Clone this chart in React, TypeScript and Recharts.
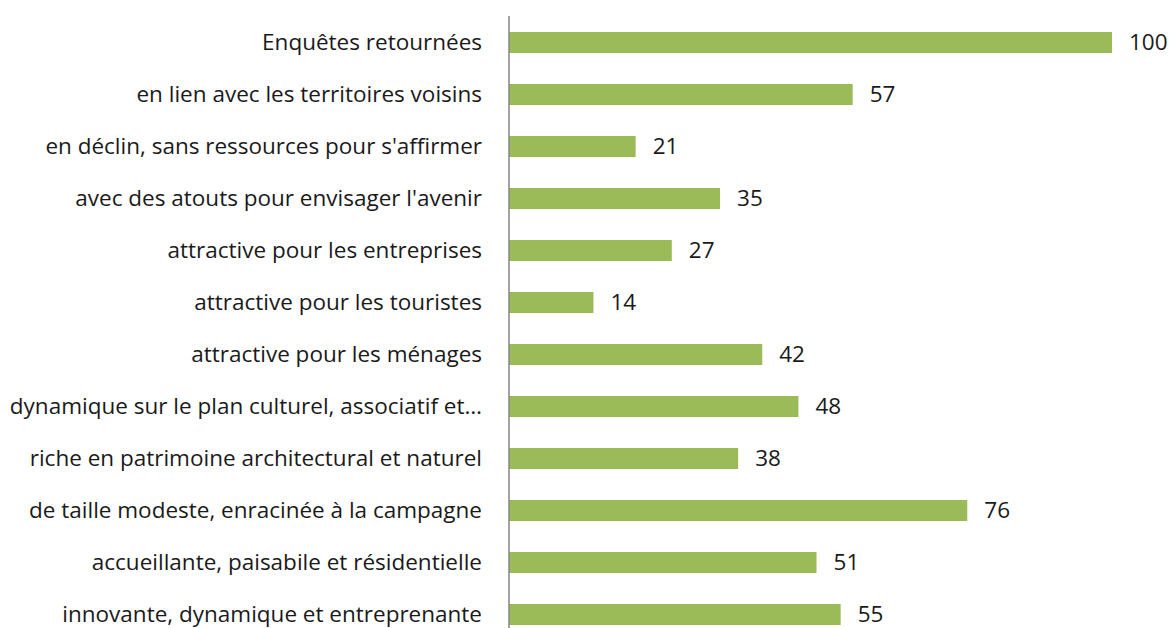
import { BarChart, Bar, XAxis, YAxis, LabelList } from "recharts"

const categories = [
  "Enquêtes retournées",
  "en lien avec les territoires voisins",
  "en déclin, sans ressources pour s'affirmer",
  "avec des atouts pour envisager l'avenir",
  "attractive pour les entreprises",
  "attractive pour les touristes",
  "attractive pour les ménages",
  "dynamique sur le plan culturel, associatif et…",
  "riche en patrimoine architectural et naturel",
  "de taille modeste, enracinée à la campagne",
  "accueillante, paisabile et résidentielle",
  "innovante, dynamique et entreprenante",
]

const values = [100, 57, 21, 35, 27, 14, 42, 48, 38, 76, 51, 55]

const data = categories.map((name, i) => ({ name, value: values[i] }))

const FONT = "'Open Sans', sans-serif"

function CategoryTick(props: any) {
  const { x, y, payload } = props
  return (
    <text x={x} y={y} dy={8} textAnchor="end" fill="#1a1a1a" fontSize={22.5} fontFamily={FONT}>
      {payload.value}
    </text>
  )
}

export default function App() {
  return (
    <div style={{ position: "absolute", left: 0, top: 0, width: 1172, height: 640, background: "#fff" }}>
      <BarChart
        width={1172}
        height={640}
        data={data}
        layout="vertical"
        margin={{ top: 16, right: 60, bottom: 0, left: 0 }}
      >
        <XAxis type="number" domain={[0, 100]} hide />
        <YAxis
          type="category"
          dataKey="name"
          width={509}
          tickLine={false}
          tickSize={0}
          tickMargin={27}
          axisLine={{ stroke: "#868686", strokeWidth: 1.5 }}
          tick={<CategoryTick />}
          interval={0}
        />
        <Bar dataKey="value" fill="#9BBB59" barSize={21} isAnimationActive={false}>
          <LabelList
            dataKey="value"
            position="right"
            offset={17}
            fill="#1a1a1a"
            fontSize={22.5}
            fontFamily={FONT}
          />
        </Bar>
      </BarChart>
    </div>
  )
}
